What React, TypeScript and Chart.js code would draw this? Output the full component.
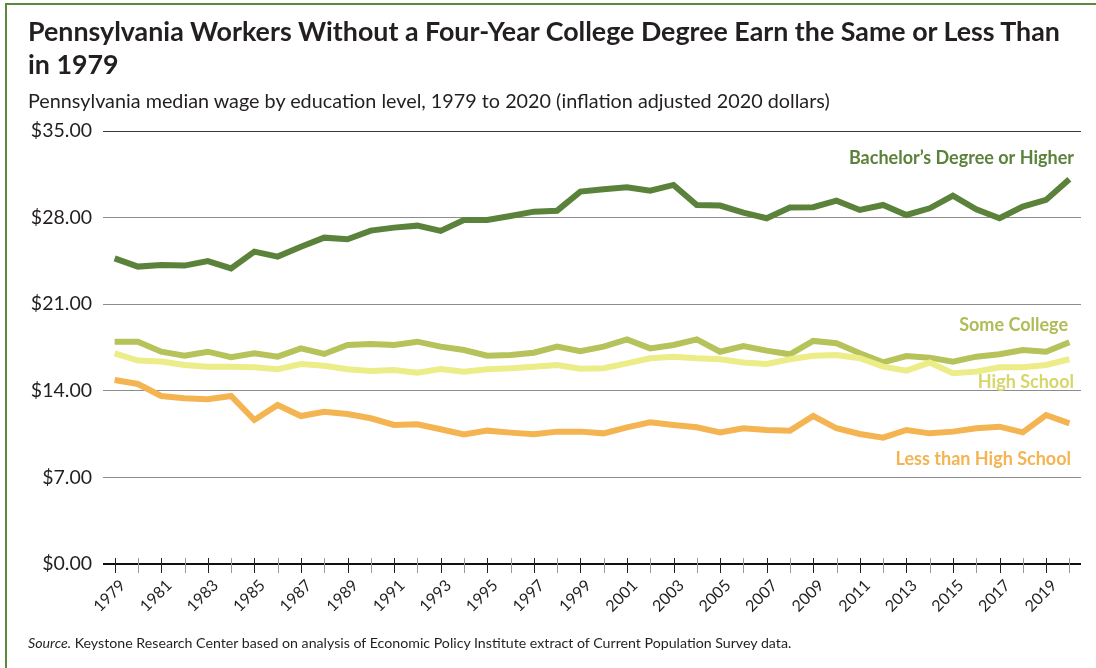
import React, { useEffect, useRef } from "react";
import { Chart, registerables } from "chart.js";

Chart.register(...registerables);

const years: string[] = [
  "1979", "1980", "1981", "1982", "1983", "1984", "1985", "1986", "1987", "1988",
  "1989", "1990", "1991", "1992", "1993", "1994", "1995", "1996", "1997", "1998",
  "1999", "2000", "2001", "2002", "2003", "2004", "2005", "2006", "2007", "2008",
  "2009", "2010", "2011", "2012", "2013", "2014", "2015", "2016", "2017", "2018",
  "2019", "2020",
];

const bachelors: number[] = [
  24.71, 24.04, 24.17, 24.12, 24.49, 23.9, 25.25, 24.85, 25.65, 26.38,
  26.25, 26.95, 27.19, 27.35, 26.92, 27.81, 27.81, 28.13, 28.48, 28.56,
  30.1, 30.29, 30.45, 30.18, 30.64, 29.02, 28.97, 28.4, 27.95, 28.81,
  28.84, 29.37, 28.62, 29.02, 28.21, 28.75, 29.78, 28.67, 27.95, 28.89,
  29.43, 31.1,
];

const someCollege: number[] = [
  17.97, 17.97, 17.16, 16.84, 17.16, 16.71, 17.03, 16.76, 17.43, 16.98,
  17.7, 17.79, 17.7, 17.97, 17.57, 17.3, 16.84, 16.89, 17.08, 17.57,
  17.2, 17.57, 18.16, 17.43, 17.7, 18.16, 17.16, 17.62, 17.25, 16.95,
  18.03, 17.84, 17.03, 16.3, 16.81, 16.68, 16.35, 16.76, 16.95, 17.3,
  17.16, 17.92,
];

const highSchool: number[] = [
  17.03, 16.44, 16.36, 16.09, 15.95, 15.95, 15.9, 15.74, 16.17, 16.03,
  15.74, 15.6, 15.68, 15.47, 15.76, 15.55, 15.74, 15.82, 15.95, 16.09,
  15.78, 15.82, 16.22, 16.63, 16.76, 16.63, 16.55, 16.28, 16.17, 16.55,
  16.84, 16.9, 16.63, 15.95, 15.63, 16.28, 15.42, 15.55, 15.9, 15.9,
  16.09, 16.55,
];

const lessThanHS: number[] = [
  14.87, 14.55, 13.58, 13.39, 13.31, 13.58, 11.64, 12.85, 11.96, 12.31,
  12.13, 11.78, 11.24, 11.29, 10.89, 10.48, 10.78, 10.62, 10.48, 10.7,
  10.7, 10.56, 11.05, 11.45, 11.24, 11.05, 10.64, 10.97, 10.83, 10.78,
  11.96, 10.97, 10.51, 10.21, 10.83, 10.56, 10.7, 10.97, 11.1, 10.64,
  12.04, 11.37,
];

const seriesNames: string[] = [
  "Bachelor\u2019s Degree or Higher",
  "Some College",
  "High School",
  "Less than High School",
];
const seriesColors: string[] = ["#5b823b", "#b6c25a", "#ecec88", "#f4b451"];
const labelColors: string[] = ["#5b823b", "#b0bc55", "#d6d66a", "#f4b451"];
const labelValues: number[] = [32.82, 19.32, 14.71, 8.49];

const yTicks: number[] = [0, 7, 14, 21, 28, 35];

const FONT = "Lato, 'Open Sans', sans-serif";

export default function App() {
  const canvasRef = useRef<HTMLCanvasElement | null>(null);

  useEffect(() => {
    const canvas = canvasRef.current;
    if (!canvas) return;

    const tickPlugin = {
      id: "yearTicks",
      afterDraw(chart: any) {
        const ctx = chart.ctx;
        const xs = chart.scales.x;
        const bottom = chart.chartArea.bottom;
        ctx.save();
        for (let i = 0; i < years.length; i++) {
          const x = Math.round(xs.getPixelForValue(i)) + 0.5;
          ctx.beginPath();
          ctx.strokeStyle = i % 2 === 0 ? "#222222" : "#9a9a9a";
          ctx.lineWidth = 1;
          ctx.moveTo(x, bottom - 6);
          ctx.lineTo(x, bottom + 9);
          ctx.stroke();
        }
        ctx.restore();
      },
    };

    const labelPlugin = {
      id: "seriesLabels",
      afterDatasetsDraw(chart: any) {
        const ctx = chart.ctx;
        const ys = chart.scales.y;
        const right = chart.chartArea.right;
        const offsets = [7, 13, 7, 10];
        ctx.save();
        ctx.font = `bold 18px ${FONT}`;
        ctx.textAlign = "right";
        ctx.textBaseline = "middle";
        for (let i = 0; i < seriesNames.length; i++) {
          ctx.fillStyle = labelColors[i];
          ctx.fillText(seriesNames[i], right - offsets[i], ys.getPixelForValue(labelValues[i]));
        }
        ctx.restore();
      },
    };

    const mk = (label: string, data: number[], color: string) => ({
      label,
      data,
      borderColor: color,
      backgroundColor: color,
      borderWidth: 6,
      pointRadius: 0,
      pointHoverRadius: 0,
      tension: 0,
      borderCapStyle: "butt" as const,
      borderJoinStyle: "miter" as const,
      fill: false,
    });

    const chart = new Chart(canvas, {
      type: "line",
      data: {
        labels: years,
        datasets: [
          mk(seriesNames[3], lessThanHS, seriesColors[3]),
          mk(seriesNames[2], highSchool, seriesColors[2]),
          mk(seriesNames[1], someCollege, seriesColors[1]),
          mk(seriesNames[0], bachelors, seriesColors[0]),
        ],
      },
      options: {
        animation: false,
        responsive: false,
        maintainAspectRatio: false,
        events: [],
        layout: { padding: { top: 131, right: 15, left: 0, bottom: 0 } },
        plugins: {
          legend: { display: false },
          title: { display: false },
          tooltip: { enabled: false },
        },
        scales: {
          x: {
            type: "category",
            offset: true,
            grid: { display: false, drawTicks: false },
            border: { display: false },
            afterFit(scale: any) {
              scale.height = 104;
            },
            ticks: {
              autoSkip: false,
              maxRotation: 45,
              minRotation: 45,
              padding: 12,
              labelOffset: 8,
              color: "#231f20",
              font: { family: FONT, size: 16 },
              callback: (_v: any, i: number) => (i % 2 === 0 ? years[i] : ""),
            },
          },
          y: {
            min: 0,
            max: 35,
            afterFit(scale: any) {
              scale.width = 103;
            },
            afterBuildTicks(scale: any) {
              scale.ticks = yTicks.map((v) => ({ value: v }));
            },
            grid: {
              drawTicks: false,
              color: (c: any) =>
                c.tick && c.tick.value === 0 ? "#111111" : c.tick && c.tick.value === 35 ? "#3a3a3a" : "#8c8c8c",
              lineWidth: (c: any) => (c.tick && c.tick.value === 0 ? 2 : 1),
            },
            border: { display: false },
            ticks: {
              padding: 11,
              color: "#231f20",
              font: { family: FONT, size: 19.5 },
              callback: (v: any) => `$${Number(v).toFixed(2)}`,
            },
          },
        },
      },
      plugins: [tickPlugin, labelPlugin],
    });

    return () => {
      chart.destroy();
    };
  }, []);

  return (
    <div
      style={{
        position: "absolute",
        left: 0,
        top: 0,
        width: 1096,
        height: 668,
        background: "#ffffff",
        overflow: "hidden",
        fontFamily: FONT,
        color: "#231f20",
      }}
    >
      <div style={{ position: "absolute", left: 5, top: 3, width: 1091, height: 2, background: "#5b8a3c" }} />
      <div style={{ position: "absolute", left: 5, top: 3, width: 2, height: 665, background: "#5b8a3c" }} />
      <canvas
        ref={canvasRef}
        width={1096}
        height={668}
        style={{ position: "absolute", left: 0, top: 0, width: 1096, height: 668 }}
      />
      <div
        style={{
          position: "absolute",
          left: 28,
          top: 15,
          width: 1066,
          fontSize: 26.8,
          fontWeight: 700,
          lineHeight: "33px",
          whiteSpace: "nowrap",
        }}
      >
        Pennsylvania Workers Without a Four-Year College Degree Earn the Same or Less Than
        <br />
        in 1979
      </div>
      <div
        style={{
          position: "absolute",
          left: 28,
          top: 88,
          fontSize: 19.8,
          lineHeight: "24px",
          whiteSpace: "nowrap",
        }}
      >
        Pennsylvania median wage by education level, 1979 to 2020 (inflation adjusted 2020 dollars)
      </div>
      <div
        style={{
          position: "absolute",
          left: 28,
          top: 634,
          fontSize: 14.2,
          lineHeight: "18px",
          whiteSpace: "nowrap",
        }}
      >
        <i>Source.</i> Keystone Research Center based on analysis of Economic Policy Institute extract of Current Population Survey data.
      </div>
    </div>
  );
}
